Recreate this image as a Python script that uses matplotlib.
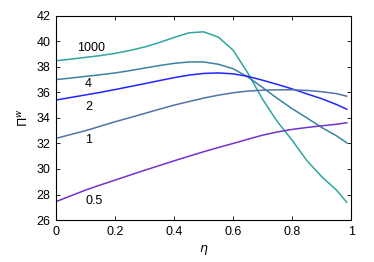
import matplotlib
matplotlib.use("Agg")
import matplotlib.pyplot as plt

eta = [0.0, 0.05, 0.1, 0.15, 0.2, 0.25, 0.3, 0.35, 0.4, 0.45, 0.5,
       0.55, 0.6, 0.65, 0.7, 0.75, 0.8, 0.85, 0.9, 0.95, 0.985]
pi_1000 = [38.48, 38.6, 38.74, 38.88, 39.05, 39.28, 39.55, 39.9, 40.3, 40.66, 40.74,
           40.32, 39.3, 37.5, 35.45, 33.7, 32.25, 30.65, 29.4, 28.35, 27.4]
pi_4 = [37.0, 37.12, 37.25, 37.38, 37.52, 37.7, 37.9, 38.1, 38.27, 38.38, 38.38,
        38.2, 37.85, 37.2, 36.38, 35.52, 34.72, 34.0, 33.25, 32.6, 32.05]
pi_2 = [35.4, 35.6, 35.8, 36.0, 36.22, 36.45, 36.68, 36.92, 37.15, 37.35, 37.48,
        37.52, 37.45, 37.25, 36.95, 36.62, 36.27, 35.88, 35.5, 35.05, 34.68]
pi_1 = [32.4, 32.7, 33.0, 33.35, 33.7, 34.02, 34.35, 34.68, 35.0, 35.28, 35.55,
        35.78, 35.97, 36.1, 36.17, 36.2, 36.2, 36.15, 36.05, 35.9, 35.7]
pi_05 = [27.45, 27.9, 28.35, 28.75, 29.13, 29.52, 29.9, 30.27, 30.64, 31.0, 31.35,
         31.68, 32.0, 32.33, 32.65, 32.9, 33.1, 33.25, 33.38, 33.5, 33.62]

labels = ["1000", "4", "2", "1", "0.5"]
label_x = [0.12, 0.11, 0.11, 0.11, 0.13]
label_y = [39.5, 36.62, 34.87, 32.26, 27.48]
colors = ["#2ea59f", "#3a82a2", "#2424ff", "#5272aa", "#7232cc"]

xticks = [0, 0.2, 0.4, 0.6, 0.8, 1]
xticklabels = ["0", "0.2", "0.4", "0.6", "0.8", "1"]
yticks = [26, 28, 30, 32, 34, 36, 38, 40, 42]

plt.rcParams['font.family'] = ['Liberation Sans', 'DejaVu Sans']

fig = plt.figure(figsize=(3.74, 2.62), dpi=100)
ax = fig.add_axes([0.150, 0.160, 0.789, 0.780])

series = [pi_1000, pi_4, pi_2, pi_1, pi_05]
for ys, c in zip(series, colors):
    ax.plot(eta, ys, color=c, lw=1.1, solid_joinstyle='round')

for t, lx, ly in zip(labels, label_x, label_y):
    ax.text(lx, ly, t, fontsize=9, ha='center', va='center', color='black')

ax.set_xlim(0, 1)
ax.set_ylim(26, 42)
ax.set_xticks(xticks)
ax.set_xticklabels(xticklabels)
ax.set_yticks(yticks)
ax.tick_params(direction='in', top=True, right=True, labelsize=9, length=3, width=0.6, pad=4)
for s in ax.spines.values():
    s.set_linewidth(0.8)
ax.set_xlabel(r'$\eta$', fontsize=9, labelpad=4)
ax.set_ylabel(r'$\mathit{\Pi}^{w}$', fontsize=9, labelpad=4)

fig.savefig("out.png", dpi=100)
